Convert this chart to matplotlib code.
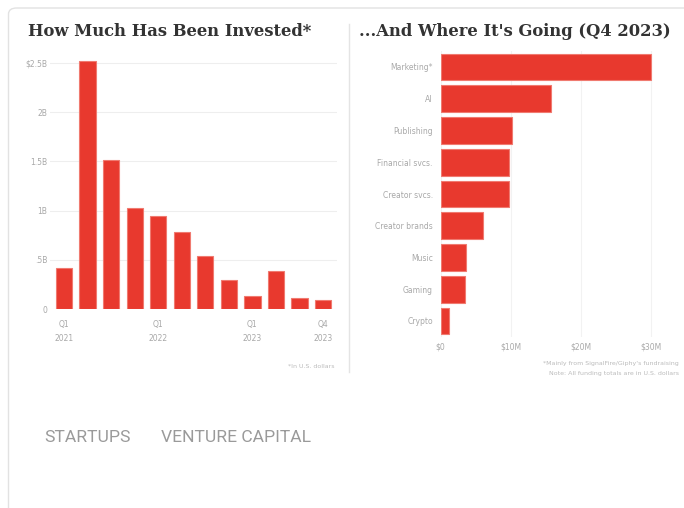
import matplotlib
matplotlib.use("Agg")
import matplotlib.pyplot as plt
from matplotlib.patches import FancyBboxPatch
from matplotlib.lines import Line2D
from matplotlib import font_manager as fm

W, H = 684, 508

# ---- data ----
quarters = ["Q1 2021", "Q2 2021", "Q3 2021", "Q4 2021",
            "Q1 2022", "Q2 2022", "Q3 2022", "Q4 2022",
            "Q1 2023", "Q2 2023", "Q3 2023", "Q4 2023"]
invested_bn = [0.42, 2.52, 1.51, 1.03, 0.95, 0.78, 0.54, 0.30, 0.13, 0.39, 0.11, 0.09]
left_yticks = [0, 0.5, 1.0, 1.5, 2.0, 2.5]
left_yticklabels = ["0", ".5B", "1B", "1.5B", "2B", "$2.5B"]
left_xtick_idx = [0, 4, 8, 11]
left_xticklabels = ["Q1\n2021", "Q1\n2022", "Q1\n2023", "Q4\n2023"]

sectors = ["Marketing*", "AI", "Publishing", "Financial svcs.", "Creator svcs.",
           "Creator brands", "Music", "Gaming", "Crypto"]
sector_musd = [30.0, 15.7, 10.1, 9.8, 9.8, 6.0, 3.6, 3.5, 1.2]
right_xticks = [0, 10, 20, 30]
right_xticklabels = ["$0", "$10M", "$20M", "$30M"]

tags = ["STARTUPS", "VENTURE CAPITAL"]

RED = "#e8392e"
EDGE = "#f07a70"
TICK = "#a8a8a8"

avail = {f.name for f in fm.fontManager.ttflist}
narrow = "Liberation Sans Narrow" if "Liberation Sans Narrow" in avail else "Roboto"
serif = "DejaVu Serif"

fig = plt.figure(figsize=(W / 100, H / 100), dpi=100)
fig.patch.set_facecolor("white")

def fx(px):
    return px / W

def fy(py):
    return 1 - py / H

def axes_px(x0, y0, x1, y1):
    return fig.add_axes([fx(x0), fy(y1), (x1 - x0) / W, (y1 - y0) / H])

# card border
card = FancyBboxPatch((fx(8.5), fy(560)), fx(900) - fx(8.5), fy(8) - fy(560),
                      boxstyle="round,pad=0,rounding_size=0.012",
                      transform=fig.transFigure, fill=False,
                      edgecolor="#e2e2e2", linewidth=1.0, zorder=0)
fig.patches.append(card)

# separator
fig.add_artist(Line2D([fx(348.5), fx(348.5)], [fy(24), fy(372)],
                      transform=fig.transFigure, color="#e4e4e4", lw=1))

# titles
fig.text(fx(28), fy(32), "How Much Has Been Invested*", family=serif,
         fontweight="bold", fontsize=11.8, color="#333333", va="center", ha="left")
fig.text(fx(359), fy(32), "...And Where It's Going (Q4 2023)", family=serif,
         fontweight="bold", fontsize=11.8, color="#333333", va="center", ha="left")

# ---- left chart ----
pitch = 23.55
c0 = 64.0
xl0, xl1 = -0.6, 11.6
ax = axes_px(c0 + xl0 * pitch, 309.3 - 2.56 * 98.64, c0 + xl1 * pitch, 309.3)
ax.bar(range(len(invested_bn)), invested_bn, width=0.69, color=RED,
       edgecolor=EDGE, linewidth=0.8, zorder=3)
ax.set_xlim(xl0, xl1)
ax.set_ylim(0, 2.56)
ax.set_yticks(left_yticks)
ax.set_yticklabels(left_yticklabels)
ax.set_xticks(left_xtick_idx)
ax.set_xticklabels(left_xticklabels, linespacing=1.6)
ax.grid(axis="y", color="#eeeeee", lw=0.8, zorder=0)
for s in ax.spines.values():
    s.set_visible(False)
ax.tick_params(axis="both", length=0, labelsize=5.5, labelcolor=TICK)
ax.tick_params(axis="y", pad=2)
ax.tick_params(axis="x", pad=8)
fig.text(fx(335), fy(366), "*In U.S. dollars", fontsize=4.5, color="#bbbbbb",
         ha="right", va="center")

# ---- right chart ----
rp = 31.75
r0 = 67.0
px_per = 7.03
x0 = 440.5
axr = axes_px(x0, r0 - 0.5 * rp, x0 + 30.2 * px_per, r0 + 8.5 * rp)
axr.barh(range(len(sectors)), sector_musd, height=0.84, color=RED,
         edgecolor=EDGE, linewidth=0.8, zorder=3)
axr.set_ylim(8.5, -0.5)
axr.set_xlim(0, 30.2)
axr.set_yticks(range(len(sectors)))
axr.set_yticklabels(sectors)
axr.set_xticks(right_xticks)
axr.set_xticklabels(right_xticklabels)
axr.grid(axis="x", color="#f2f2f2", lw=0.8, zorder=0)
for s in axr.spines.values():
    s.set_visible(False)
axr.tick_params(axis="both", length=0, labelsize=5.5, labelcolor=TICK)
axr.tick_params(axis="y", pad=5.5)
axr.tick_params(axis="x", pad=4)
fig.text(fx(679), fy(363), "*Mainly from SignalFire/Giphy's fundraising",
         fontsize=4.5, color="#bbbbbb", ha="right", va="center")
fig.text(fx(679), fy(373), "Note: All funding totals are in U.S. dollars",
         fontsize=4.5, color="#bbbbbb", ha="right", va="center")

# tags
fig.text(fx(44), fy(438), tags[0], family=narrow, fontsize=12.6, color="#9a9a9a",
         ha="left", va="center")
fig.text(fx(161), fy(438), tags[1], family=narrow, fontsize=12.6, color="#9a9a9a",
         ha="left", va="center")

fig.savefig("out.png", dpi=100, facecolor="white")
